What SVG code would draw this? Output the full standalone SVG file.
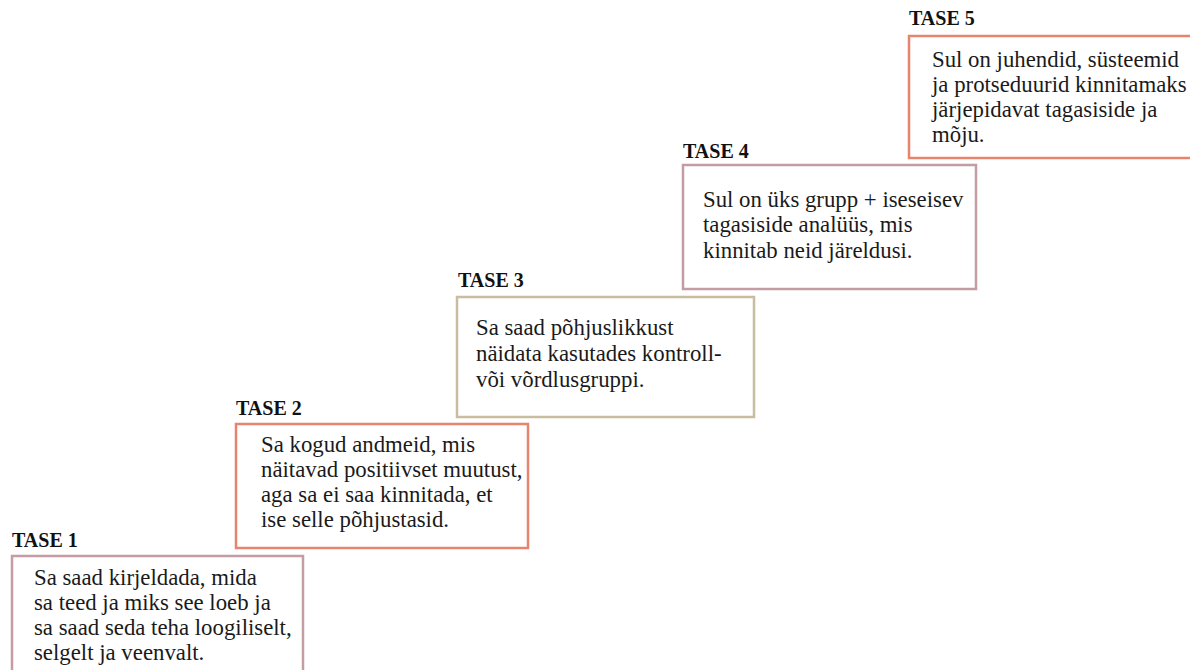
<svg xmlns="http://www.w3.org/2000/svg" width="1190" height="670" viewBox="0 0 1190 670">
<style>
.lbl{font-family:"Liberation Serif","Times New Roman",serif;font-weight:bold;font-size:20px;fill:#111}
.txt{font-family:"Liberation Serif","Times New Roman",serif;font-size:22.8px;fill:#1a1a1a}
.box{fill:#fff;stroke-width:2.5}
.or{stroke:#e8846c}
.mv{stroke:#c49ca4}
.tn{stroke:#c8bd9e}
</style>
<rect width="1190" height="670" fill="#fff"/>
<g id="connectors"></g>
<g id="tase1">
<text class="lbl" x="12" y="547">TASE 1</text>
<rect class="box mv" x="12" y="556" width="291" height="130"/>
<text class="txt" x="34" y="585">Sa saad kirjeldada, mida</text>
<text class="txt" x="34" y="610">sa teed ja miks see loeb ja</text>
<text class="txt" x="34" y="635">sa saad seda teha loogiliselt,</text>
<text class="txt" x="34" y="660">selgelt ja veenvalt.</text>
</g>
<g id="tase2">
<text class="lbl" x="236" y="415">TASE 2</text>
<rect class="box or" x="236" y="424" width="292" height="124"/>
<text class="txt" x="261" y="452">Sa kogud andmeid, mis</text>
<text class="txt" x="261" y="477">näitavad positiivset muutust,</text>
<text class="txt" x="261" y="502">aga sa ei saa kinnitada, et</text>
<text class="txt" x="261" y="527">ise selle põhjustasid.</text>
</g>
<g id="tase3">
<text class="lbl" x="458" y="287">TASE 3</text>
<rect class="box tn" x="457" y="297" width="297" height="120"/>
<text class="txt" x="476" y="335">Sa saad põhjuslikkust</text>
<text class="txt" x="476" y="361">näidata kasutades kontroll-</text>
<text class="txt" x="476" y="387">või võrdlusgruppi.</text>
</g>
<g id="tase4">
<text class="lbl" x="683" y="158">TASE 4</text>
<rect class="box mv" x="683" y="165" width="293" height="124"/>
<text class="txt" x="703" y="207">Sul on üks grupp + iseseisev</text>
<text class="txt" x="703" y="232">tagasiside analüüs, mis</text>
<text class="txt" x="703" y="258">kinnitab neid järeldusi.</text>
</g>
<g id="tase5">
<text class="lbl" x="909" y="25">TASE 5</text>
<rect class="box or" x="909" y="36" width="300" height="122"/>
<text class="txt" x="932" y="67">Sul on juhendid, süsteemid</text>
<text class="txt" x="932" y="92">ja protseduurid kinnitamaks</text>
<text class="txt" x="932" y="117">järjepidavat tagasiside ja</text>
<text class="txt" x="932" y="142">mõju.</text>
</g>
</svg>
